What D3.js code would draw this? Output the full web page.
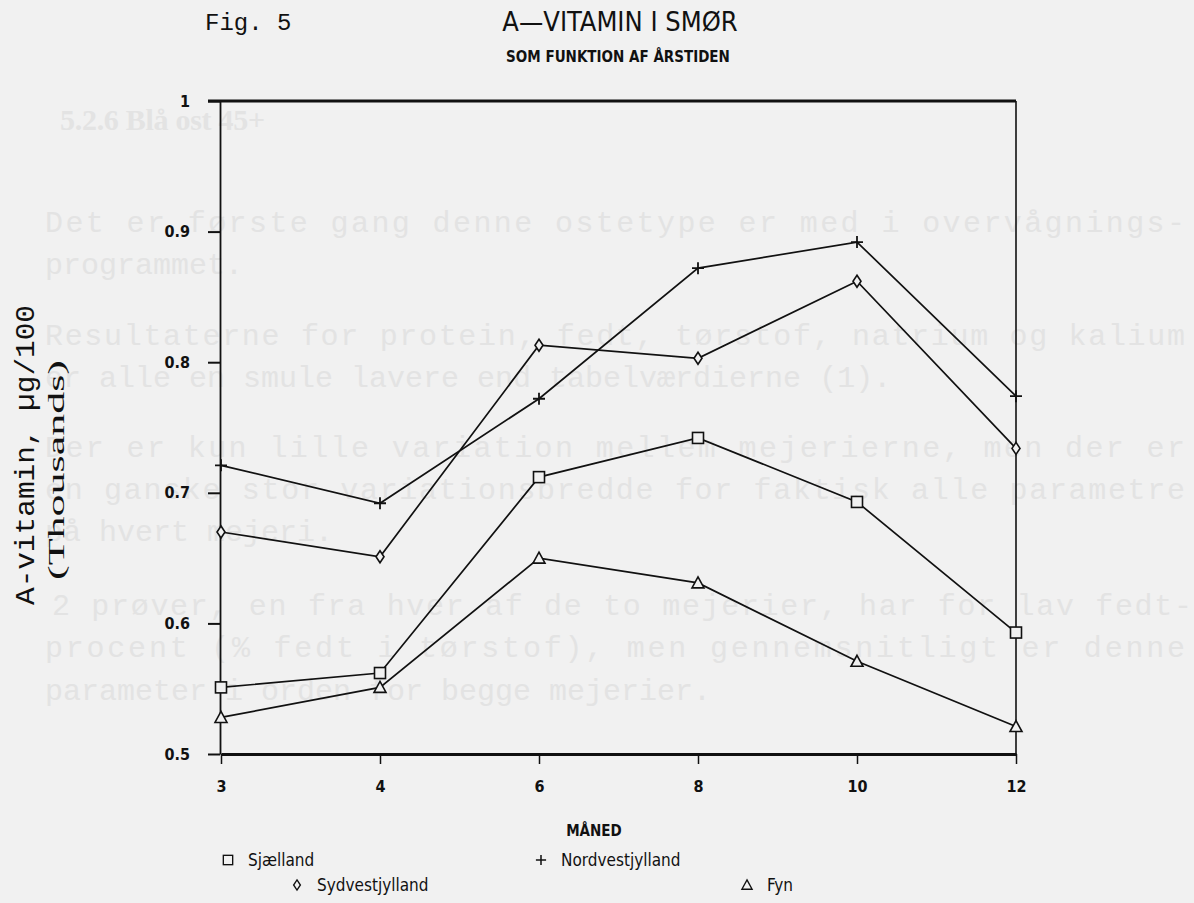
<!DOCTYPE html>
<html>
<head>
<meta charset="utf-8">
<script src="https://cdn.jsdelivr.net/npm/d3@7"></script>
<style>
  body { margin: 0; background: #f1f1f1; }
  svg { display: block; }
  .narrow { font-family: "Liberation Sans Narrow", "DejaVu Sans Condensed", "DejaVu Sans", sans-serif; font-stretch: condensed; }
</style>
</head>
<body>
<script>
// months on the x axis (categorical, evenly spaced)
var months = ["3", "4", "6", "8", "10", "12"];
var yTicks = [0.5, 0.6, 0.7, 0.8, 0.9, 1];

// A-vitamin, thousands of µg/100 g
var sjaelland       = [0.551, 0.562, 0.712, 0.742, 0.693, 0.593];
var nordvestjylland = [0.721, 0.692, 0.772, 0.872, 0.892, 0.774];
var sydvestjylland  = [0.670, 0.651, 0.813, 0.803, 0.862, 0.734];
var fyn             = [0.528, 0.551, 0.650, 0.631, 0.571, 0.521];

var seriesNames = ["Sjælland", "Nordvestjylland", "Sydvestjylland", "Fyn"];
var seriesValues = [sjaelland, nordvestjylland, sydvestjylland, fyn];
var seriesSymbols = ["square", "plus", "diamond", "triangle"];

// text from the other side of the page showing through the scan
var bleedText = [
  "Det er første gang denne ostetype er med i overvågnings-",
  "programmet.",
  "Resultaterne for protein, fedt, tørstof, natrium og kalium",
  "er alle en smule lavere end tabelværdierne (1).",
  "Der er kun lille variation mellem mejerierne, men der er",
  "en ganske stor variationsbredde for faktisk alle parametre",
  "på hvert mejeri.",
  "2 prøver, en fra hver af de to mejerier, har for lav fedt-",
  "procent (% fedt i tørstof), men gennemsnitligt er denne",
  "parameter i orden for begge mejerier."
];

var width = 1194, height = 903;
var bg = "#f1f1f1";
var ghost = "#e3e3e3";

var svg = d3.select("body").append("svg")
    .attr("width", width)
    .attr("height", height);

// faint bleed-through
var bleedY = [232, 274, 345, 387, 457, 499, 541, 615, 657, 700];
var bleedX = [45, 45, 45, 45, 45, 45, 45, 52, 45, 45];
var bleedFull = [true, false, true, false, true, true, false, true, true, false];
svg.append("text")
    .attr("x", 60).attr("y", 130)
    .attr("fill", ghost)
    .attr("textLength", 205).attr("lengthAdjust", "spacing")
    .style("font", "bold 30px 'Liberation Serif', serif")
    .text("5.2.6  Blå ost 45+");
svg.selectAll("text.bleed")
  .data(bleedText)
  .enter().append("text")
    .attr("class", "bleed")
    .attr("x", (d, i) => bleedX[i])
    .attr("y", (d, i) => bleedY[i])
    .attr("fill", ghost)
    .attr("textLength", (d, i) => bleedFull[i] ? 1140 : null)
    .attr("lengthAdjust", "spacing")
    .style("font", "30px 'Liberation Mono', 'DejaVu Sans Mono', monospace")
    .text(d => d);

var x = d3.scalePoint().domain(months).range([221, 1016]);
var y = d3.scaleLinear().domain([0.5, 1]).range([754, 101]);

// titles
svg.append("text")
    .attr("x", 205).attr("y", 30)
    .style("font", "24px 'Liberation Mono', 'DejaVu Sans Mono', monospace")
    .attr("fill", "#111")
    .text("Fig. 5");
svg.append("text")
    .attr("class", "narrow")
    .attr("x", 620).attr("y", 31)
    .attr("text-anchor", "middle")
    .style("font-size", "27px")
    .attr("fill", "#111")
    .text("A—VITAMIN I SMØR");
svg.append("text")
    .attr("class", "narrow")
    .attr("x", 618).attr("y", 62)
    .attr("text-anchor", "middle")
    .style("font-size", "15px").style("font-weight", "bold")
    .attr("fill", "#111")
    .text("SOM FUNKTION AF ÅRSTIDEN");

// y axis title
svg.append("text")
    .attr("transform", "translate(34,455) rotate(-90)")
    .attr("text-anchor", "middle")
    .attr("textLength", 300).attr("lengthAdjust", "spacingAndGlyphs")
    .style("font", "27px 'Liberation Mono', 'DejaVu Sans Mono', monospace")
    .attr("fill", "#111")
    .text("A-vitamin, µg/100");
svg.append("text")
    .attr("transform", "translate(64,470) rotate(-90)")
    .attr("text-anchor", "middle")
    .attr("textLength", 220).attr("lengthAdjust", "spacingAndGlyphs")
    .style("font", "24px 'Liberation Serif', serif")
    .attr("fill", "#111")
    .text("(Thousands)");

// axes
var yAxis = svg.append("g")
    .attr("transform", "translate(220,0)")
    .call(d3.axisLeft(y).tickValues(yTicks).tickSize(12).tickSizeOuter(0)
      .tickFormat(d => d === 1 ? "1" : d.toFixed(1)));
yAxis.select(".domain").attr("stroke", "#111").attr("stroke-width", 1.8);
yAxis.selectAll(".tick line").attr("stroke", "#111").attr("stroke-width", 2);
yAxis.selectAll(".tick text")
    .attr("class", "narrow")
    .attr("x", -30)
    .style("font-size", "16px").style("font-weight", "bold")
    .attr("fill", "#111");

var xAxis = svg.append("g")
    .attr("transform", "translate(0,754)")
    .call(d3.axisBottom(x).tickSize(10).tickSizeOuter(0));
xAxis.select(".domain").attr("stroke", "#111").attr("stroke-width", 3);
xAxis.selectAll(".tick line").attr("stroke", "#111").attr("stroke-width", 1.5);
xAxis.selectAll(".tick text")
    .attr("class", "narrow")
    .attr("y", 27)
    .style("font-size", "16px").style("font-weight", "bold")
    .attr("fill", "#111");

// frame: heavy top line, thin right line
svg.append("line")
    .attr("x1", 208).attr("x2", x("12"))
    .attr("y1", y(1)).attr("y2", y(1))
    .attr("stroke", "#111").attr("stroke-width", 3);
svg.append("line")
    .attr("x1", x("12")).attr("x2", x("12"))
    .attr("y1", y(1)).attr("y2", y(0.5))
    .attr("stroke", "#111").attr("stroke-width", 1.6);

// series lines
var line = d3.line()
    .x((d, i) => x(months[i]))
    .y(d => y(d));

svg.selectAll("path.series")
  .data(seriesValues)
  .enter().append("path")
    .attr("class", "series")
    .attr("fill", "none")
    .attr("stroke", "#111")
    .attr("stroke-width", 1.7)
    .attr("d", line);

function drawSymbol(g, type) {
  if (type === "square") {
    g.append("rect").attr("x", -5.5).attr("y", -5.5).attr("width", 11).attr("height", 11)
      .attr("fill", bg).attr("stroke", "#111").attr("stroke-width", 1.6);
  } else if (type === "diamond") {
    g.append("path").attr("d", "M0,-6L4,0L0,6L-4,0Z")
      .attr("fill", bg).attr("stroke", "#111").attr("stroke-width", 1.6);
  } else if (type === "triangle") {
    g.append("path").attr("d", "M0,-6L6,5L-6,5Z")
      .attr("fill", bg).attr("stroke", "#111").attr("stroke-width", 1.6);
  } else {
    g.append("path").attr("d", "M-6,0H6M0,-6V6")
      .attr("fill", "none").attr("stroke", "#111").attr("stroke-width", 1.8);
  }
}

seriesValues.forEach(function(vals, s) {
  vals.forEach(function(v, i) {
    var g = svg.append("g")
        .attr("transform", "translate(" + x(months[i]) + "," + y(v) + ")");
    drawSymbol(g, seriesSymbols[s]);
  });
});

// x axis title
svg.append("text")
    .attr("class", "narrow")
    .attr("x", 594).attr("y", 836)
    .attr("text-anchor", "middle")
    .style("font-size", "15px").style("font-weight", "bold")
    .attr("fill", "#111")
    .text("MÅNED");

// legend
var legendX = [228, 541, 297, 747];
var legendY = [860, 860, 885, 885];
seriesNames.forEach(function(name, s) {
  var g = svg.append("g")
      .attr("transform", "translate(" + legendX[s] + "," + legendY[s] + ")");
  var sym = g.append("g").attr("transform", "scale(0.85)");
  drawSymbol(sym, seriesSymbols[s]);
  g.append("text")
      .attr("class", "narrow")
      .attr("x", 20).attr("y", 6)
      .style("font-size", "17px")
      .attr("fill", "#111")
      .text(name);
});
</script>
</body>
</html>
